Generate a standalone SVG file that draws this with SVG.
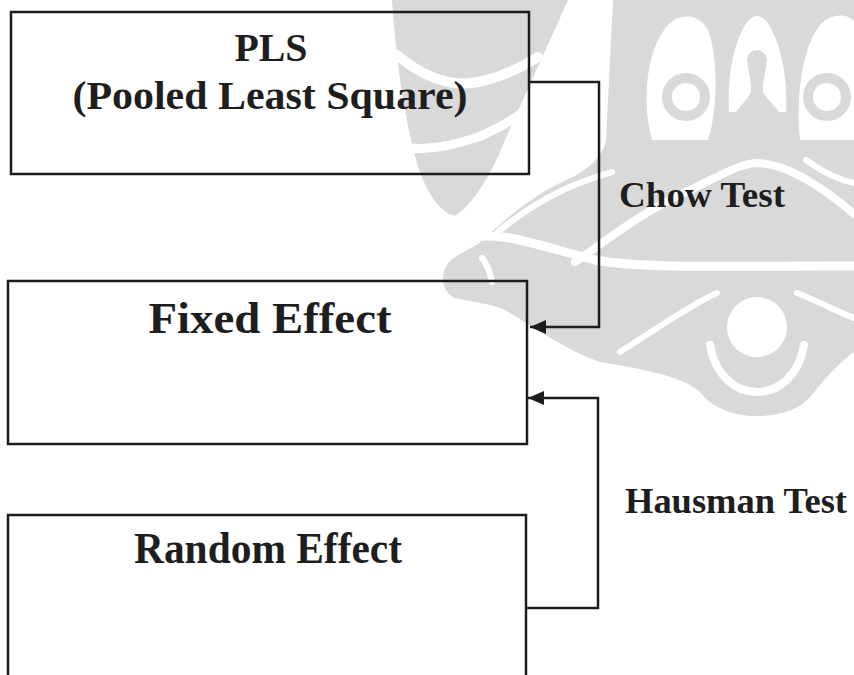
<svg xmlns="http://www.w3.org/2000/svg" width="854" height="675" viewBox="0 0 854 675">
  <style>
    .box { fill: none; stroke: #1c1c1c; stroke-width: 2.5; }
    .wire { fill: none; stroke: #1c1c1c; stroke-width: 2.5; }
    .title { font-family: "Liberation Serif", "Times New Roman", serif; font-weight: bold; fill: #1e1e1e; text-anchor: middle; }
    .label { font-family: "Liberation Serif", "Times New Roman", serif; font-weight: bold; fill: #1e1e1e; font-size: 36px; }
    .wm { fill: #d9d9d9; }
    .wmcut { fill: #ffffff; }
    .wmline { fill: none; stroke: #ffffff; stroke-linecap: round; }
  </style>
  <defs>
    <marker id="arrow" markerUnits="userSpaceOnUse" markerWidth="18" markerHeight="14" refX="16" refY="7" orient="auto">
      <path d="M0,0 L16,7 L0,14 Z" fill="#1c1c1c"/>
    </marker>
  </defs>

  <rect width="854" height="675" fill="#ffffff"/>

  <!-- background ornament -->
  <g id="watermark">
    <!-- left leaf -->
    <path class="wm" d="M392,0 L568,0 C548,45 525,95 505,140 C490,178 472,205 455,216 C438,212 425,190 416,160 C404,115 396,60 392,0 Z"/>
    <path class="wmline" stroke-width="10" d="M397,55 C420,75 450,88 478,82 C500,78 520,68 538,57"/>
    <path class="wmline" stroke-width="9" d="M410,148 C430,150 455,145 478,137 C495,130 510,122 523,112"/>

    <!-- main mass -->
    <path class="wm" d="M613,0 L854,0 L854,352 C840,362 825,378 812,395 C800,410 780,416 757,416 C734,416 712,408 700,392 C685,378 650,370 600,362 C565,350 535,328 505,310 C490,303 470,302 455,298 C443,293 440,278 446,266 C452,256 465,252 478,244 C500,225 525,200 560,183 C585,172 602,160 606,140 L610,60 Z"/>

    <!-- upper eyes -->
    <path class="wmcut" d="M652,140 C642,105 645,50 668,25 C680,12 700,14 708,30 C718,55 718,110 708,140 Z"/>
    <circle class="wm" cx="686" cy="97" r="24"/>
    <circle class="wmcut" cx="686" cy="97" r="14"/>
    <path class="wmcut" d="M800,140 C796,105 800,50 820,25 C832,12 850,14 854,22 L854,140 Z"/>
    <circle class="wm" cx="827" cy="97" r="24"/>
    <circle class="wmcut" cx="827" cy="97" r="14"/>

    <!-- centre arch with keyhole -->
    <path class="wmcut" d="M729,112 C727,80 733,42 747,22 C753,14 761,14 767,22 C781,42 788,80 786,112 Z"/>
    <path class="wm" d="M747,60 A10,10 0 1 1 767,60 C765,75 762,85 763,92 C768,100 775,106 779,112 L736,112 C740,106 747,100 751,92 C752,85 749,75 747,60 Z"/>

    <!-- sweeping lines -->
    <path class="wmline" stroke-width="8" d="M575,262 C610,238 645,210 690,190 C720,176 740,163 758,163 C785,164 820,185 854,214"/>
    <path class="wmline" stroke-width="9" d="M470,238 C500,230 540,246 595,260 C650,270 760,265 854,266"/>
    <path class="wmline" stroke-width="6" d="M498,232 C530,205 565,185 612,172"/>
    <path class="wmline" stroke-width="6" d="M806,160 C822,172 840,180 854,183"/>
    <path class="wmline" stroke-width="6" d="M482,258 C487,264 490,272 492,282"/>

    <!-- lower ring -->
    <circle class="wmcut" cx="757" cy="327" r="30"/>
    <path class="wmline" stroke-width="8" d="M710,345 C715,375 735,392 757,392 C779,392 799,375 804,345"/>
    <path class="wmline" stroke-width="6" d="M717,293 C690,305 655,330 620,352"/>
    <path class="wmline" stroke-width="6" d="M797,293 C820,302 838,312 854,318"/>
  </g>

  <g id="node-pls">
    <rect class="box" x="11" y="12" width="518" height="162"/>
    <text class="title" x="271" y="61" font-size="41" textLength="73" lengthAdjust="spacingAndGlyphs">PLS</text>
    <text class="title" x="270" y="109" font-size="41" textLength="395" lengthAdjust="spacingAndGlyphs">(Pooled Least Square)</text>
  </g>

  <g id="node-fixed">
    <rect class="box" x="8" y="281" width="519" height="163"/>
    <text class="title" x="270" y="333" font-size="45" textLength="243" lengthAdjust="spacingAndGlyphs">Fixed Effect</text>
  </g>

  <g id="node-random">
    <rect class="box" x="8" y="515" width="518" height="175"/>
    <text class="title" x="268" y="563" font-size="44" textLength="268" lengthAdjust="spacingAndGlyphs">Random Effect</text>
  </g>

  <g id="connectors">
    <path class="wire" d="M529,82 L599,82 L599,327 L530,327" marker-end="url(#arrow)"/>
    <path class="wire" d="M526,608 L598,608 L598,398 L528,398" marker-end="url(#arrow)"/>
  </g>

  <g id="edge-labels">
    <text class="label" x="619" y="207" textLength="166" lengthAdjust="spacingAndGlyphs">Chow Test</text>
    <text class="label" x="625" y="513" textLength="222" lengthAdjust="spacingAndGlyphs">Hausman Test</text>
  </g>
</svg>
